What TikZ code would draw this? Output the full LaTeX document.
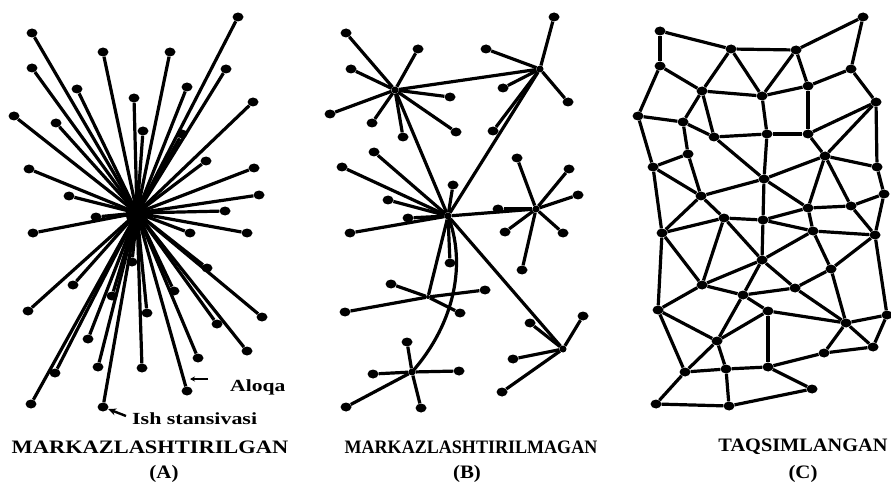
\documentclass[tikz,border=0pt]{standalone}
\usepackage{fontspec}
\setmainfont{Liberation Serif}
\usepackage{graphicx}
\usetikzlibrary{arrows.meta,shapes.geometric}
\begin{document}
\begin{tikzpicture}[x=1pt,y=-1pt,
  dot/.style={ellipse,fill=black,inner sep=0pt,minimum width=11pt,minimum height=9pt},
  hubdot/.style={circle,fill=black,inner sep=0pt,minimum size=7pt},
  link/.style={line width=3.2pt},
  lab/.style={font=\bfseries\fontsize{19}{19}\selectfont,inner sep=0pt},
  note/.style={font=\bfseries\fontsize{17}{17}\selectfont,inner sep=0pt,anchor=base west},
  pointer/.style={line width=2.4pt,-{Stealth[length=8pt,width=7pt]}}]
\useasboundingbox (0,0) rectangle (891,489);
\fill[white] (0,0) rectangle (891,489);

% ---------- (A) centralised ----------
\coordinate (ca) at (137,213);
\foreach \x/\y [count=\i] in {238/17,32/33,103/52,170/52,32/68,226/69,77/89,187/87,134/98,253/102,
  14/116,56/123,143/131,182/134,206/161,29/169,254/168,69/196,259/195,225/211,96/217,
  33/233,190/233,247/233,132/262,207/268,73/285,174/291,112/296,28/311,147/313,262/317,
  217/324,88/339,247/351,198/358,98/367,142/368,55/373,187/391,31/404,103/407}{
  \node[dot] (a\i) at (\x,\y) {};
  \draw[link] (ca) -- (a\i);
}
\node[ellipse,fill=black,inner sep=0pt,minimum width=22pt,minimum height=28pt] (ablob) at (137,214) {};
\node[ellipse,fill=black,inner sep=0pt,minimum width=10pt,minimum height=18pt] (ahub) at (135,231) {};

\coordinate (alq) at (208,379);
\coordinate (alqtip) at (190,379);
\draw[line width=2.4pt,-{Stealth[length=5pt,width=5pt]}] (alq) -- (alqtip);
\node[note] (aloqa) at (230,391) {\scalebox{1.27}[1]{Aloqa}};
\node[note] (ish) at (132,424) {\scalebox{1.29}[1]{Ish stansivasi}};
\coordinate (ishtail) at (126,416);
\draw[pointer] (ishtail) -- (a42);

% ---------- (B) decentralised ----------
\node[hubdot] (h1) at (395,90) {};
\node[hubdot] (h2) at (540,69) {};
\node[hubdot] (h3) at (448,216) {};
\node[hubdot] (h4) at (536,209) {};
\node[hubdot] (h5) at (412,372) {};
\node[hubdot] (h6) at (563,349) {};
\node[hubdot,minimum size=4pt] (h7) at (428,297) {};

\foreach \x/\y [count=\i] in {346/33,418/49,351/69,450/97,330/114,456/132,372/123,403/137}{
  \node[dot] (b1l\i) at (\x,\y) {}; \draw[link] (h1) -- (b1l\i);}
\foreach \x/\y [count=\i] in {554/17,486/49,503/88,568/102,493/131}{
  \node[dot] (b2l\i) at (\x,\y) {}; \draw[link] (h2) -- (b2l\i);}
\foreach \x/\y [count=\i] in {342/167,374/152,453/185,388/200,408/218,350/233,450/263}{
  \node[dot] (b3l\i) at (\x,\y) {}; \draw[link] (h3) -- (b3l\i);}
\foreach \x/\y [count=\i] in {517/158,569/169,578/195,498/209,505/232,563/233,522/270}{
  \node[dot] (b4l\i) at (\x,\y) {}; \draw[link] (h4) -- (b4l\i);}
\foreach \x/\y [count=\i] in {407/342,373/374,459/371,346/407,421/408}{
  \node[dot] (b5l\i) at (\x,\y) {}; \draw[link] (h5) -- (b5l\i);}
\foreach \x/\y [count=\i] in {530/323,583/316,513/359,502/392}{
  \node[dot] (b6l\i) at (\x,\y) {}; \draw[link] (h6) -- (b6l\i);}
\foreach \x/\y [count=\i] in {391/284,460/313,345/312,485/290}{
  \node[dot] (b7l\i) at (\x,\y) {}; \draw[link] (h7) -- (b7l\i);}

\draw[link] (h1) -- (h2);
\draw[link] (h1) -- (h3);
\draw[link] (h2) -- (h3);
\draw[link] (h3) -- (h4);
\draw[link] (h3) -- (h6);
\draw[link] (h3) -- (h7);
\draw[link] (h3.center) .. controls (466,262) and (456,322) .. (h5.center);

% ---------- (C) distributed ----------
\foreach \n/\x/\y in {c1/660/31,c2/863/17,c3/731/49,c4/796/50,c5/660/66,c6/851/69,c7/702/91,
  c8/808/86,c9/762/96,c10/876/102,c11/638/116,c12/683/122,c13/714/137,c14/767/134,
  c15/808/134,c16/688/154,c17/825/156,c18/653/167,c19/877/167,c20/764/179,c21/701/196,
  c22/884/194,c23/851/206,c24/808/208,c25/724/218,d1/662/233,d3/763/220,d6/813/231,
  d7/875/235,d8/762/260,d9/831/269,d10/702/285,d11/795/288,d12/743/295,d13/658/310,
  d14/768/311,d15/887/315,d16/846/323,d17/717/341,d18/873/347,d19/824/353,d20/685/372,
  d21/726/369,d22/768/367,d23/812/389,d24/656/404,d25/729/406}{
  \node[dot] (\n) at (\x,\y) {};
}
\foreach \a/\b in {c1/c5,c1/c3,c3/c4,c4/c2,c2/c6,c3/c7,c3/c9,c4/c9,c4/c8,c5/c7,c5/c11,
  c7/c9,c9/c8,c8/c6,c6/c10,c7/c12,c7/c13,c9/c14,c8/c15,c10/c15,c10/c17,c10/c19,
  c11/c12,c11/c18,c12/c16,c12/c13,c13/c14,c14/c15,c13/c20,c14/c20,c16/c18,c16/c21,
  c18/c21,c18/d1,c20/c17,c15/c17,c17/c19,c17/c24,c17/c23,c19/c22,c22/c23,c20/c24,
  c20/c21,c20/d3,c21/c25,c21/d1,c24/c23,c23/d7,c22/d7,c24/d6,
  d1/c25,c25/d3,d3/c24,d6/d7,d3/d6,d1/d10,c25/d10,c25/d8,d3/d8,d6/d8,d6/d9,d7/d9,
  d7/d15,d8/d10,d8/d12,d8/d11,d9/d11,d9/d16,d10/d12,d10/d13,d1/d13,d12/d11,d12/d14,
  d12/d17,d11/d16,d14/d16,d14/d22,d13/d17,d13/d20,d16/d15,d16/d18,d16/d19,d15/d18,
  d18/d19,d19/d22,d17/d14,d17/d20,d17/d21,d20/d21,d21/d22,d22/d23,d20/d24,d24/d25,
  d25/d23,d21/d25}{
  \draw[link] (\a) -- (\b);
}

% ---------- captions ----------
\node[lab] (capA) at (150,447) {\scalebox{1.18}[1]{MARKAZLASHTIRILGAN}};
\node[lab] (capAl) at (164,474) {\scalebox{1.1}[1]{(A)}};
\node[lab] (capB) at (471,447) {\scalebox{0.95}[1]{MARKAZLASHTIRILMAGAN}};
\node[lab] (capBl) at (467,474) {\scalebox{1.1}[1]{(B)}};
\node[lab] (capC) at (803,447) {\scalebox{1.07}[1]{TAQSIMLANGAN}};
\node[lab] (capCl) at (803,474) {\scalebox{1.1}[1]{(C)}};
\end{tikzpicture}
\end{document}
